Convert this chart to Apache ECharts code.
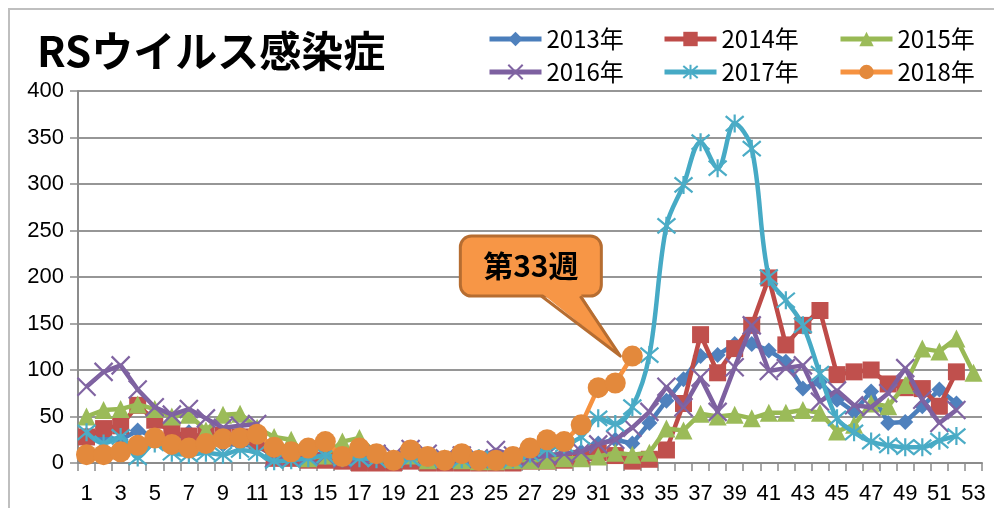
<!DOCTYPE html>
<html><head><meta charset="utf-8">
<script src="https://cdn.jsdelivr.net/npm/echarts@6/dist/echarts.min.js"></script>
<style>html,body{margin:0;padding:0;background:#fff}#c{width:994px;height:508px}</style>
</head><body><div id="c"></div>
<script>
const weeks = ['1','2','3','4','5','6','7','8','9','10','11','12','13','14','15','16','17','18','19','20','21','22','23','24','25','26','27','28','29','30','31','32','33','34','35','36','37','38','39','40','41','42','43','44','45','46','47','48','49','50','51','52','53'];
const seriesNames = ['2013年','2014年','2015年','2016年','2017年','2018年'];
const y2013 = [30,28,25,35,28,25,33,25,20,20,18,8,5,5,5,3,5,3,2,3,3,3,3,5,8,5,5,8,10,12,21,25,21,43,67,90,115,116,128,128,121,109,80,87,68,55,77,43,44,61,79,64,null];
const y2014 = [28,37,40,62,46,33,29,30,30,28,22,5,5,3,3,2,0,0,0,2,0,0,0,0,0,0,2,2,3,5,11,8,2,4,14,64,138,97,123,148,199,127,148,164,95,98,100,85,81,80,61,98,null];
const y2015 = [50,57,58,63,58,50,52,35,52,53,38,28,25,5,8,23,27,10,5,8,3,5,3,2,2,3,3,3,5,5,7,11,9,11,37,35,53,50,52,48,54,54,57,54,34,41,64,61,84,123,120,134,97];
const y2016 = [82,98,105,79,60,52,58,48,38,40,42,5,5,8,8,5,8,10,8,15,10,5,8,5,14,8,5,8,10,12,20,25,38,55,82,60,92,55,103,148,99,102,105,66,78,62,60,75,102,68,43,57,null];
const y2017 = [33,21,28,6,21,11,9,11,9,14,11,2,3,5,8,5,5,4,3,5,5,3,4,5,3,4,10,15,20,28,48,42,60,116,255,299,345,317,365,338,200,175,148,96,48,33,23,19,17,17,24,29,null];
const y2018 = [9,9,12,19,27,20,16,21,26,27,31,17,12,16,23,7,16,10,3,14,7,3,10,3,3,7,16,25,23,41,81,86,115,null,null,null,null,null,null,null,null,null,null,null,null,null,null,null,null,null,null,null,null];
const yTicks = {min:0, max:400, interval:50};
const calloutText = '第33週';
const calloutWeekIndex = 32;

const allData = [y2013,y2014,y2015,y2016,y2017,y2018];
const lineColors = ['#4A7EBB','#BE4B48','#98B954','#7D60A0','#46AAC5','#F69240'];
const markColors = ['#4F81BD','#C0504D','#9BBB59','#8064A2','#4BACC6','#E3893C'];
const symbols = ['diamond','rect','triangle','path://M0,0L10,10M10,0L0,10','path://M0,0L10,10M10,0L0,10M5,-1L5,11','circle'];
const sizes = [16,17,18,18,18,21];

const chart = echarts.init(document.getElementById('c'), null, {renderer:'canvas'});
const series = seriesNames.map((n,i)=>({
  name:n, type:'line', data:allData[i],
  smooth: i===4 ? 0.35 : false,
  symbol: symbols[i], symbolSize: sizes[i], showAllSymbol:true,
  lineStyle:{color:lineColors[i], width:4.5},
  itemStyle:{color:markColors[i], borderColor:markColors[i], borderWidth:(i===3||i===4)?2.2:0},
  z: 2+i, animation:false
}));
const legPos = [[487,27],[662,27],[838,27],[487,60],[662,60],[838,60]];
const legends = seriesNames.map((n,i)=>({
  data:[n], left:legPos[i][0], top:legPos[i][1], padding:0,
  itemWidth:52, itemHeight:18, itemGap:5,
  lineStyle:{width:5},
  textStyle:{fontSize:24, color:'#000', fontFamily:'"Liberation Sans Narrow","Noto Sans CJK JP",sans-serif'}
}));
chart.setOption({
  animation:false,
  backgroundColor:'#fff',
  title:{text:'RSウイルス感染症', left:37, top:30, padding:0,
    textStyle:{fontSize:42, fontWeight:'bold', color:'#000', fontFamily:'"Noto Sans CJK JP",sans-serif'}},
  legend: legends,
  grid:{left:78, right:12, top:91, bottom:45, containLabel:false},
  xAxis:{type:'category', data:weeks, boundaryGap:true,
    axisLine:{lineStyle:{color:'#8C8C8C', width:2}},
    axisTick:{show:true, interval:0, length:8, lineStyle:{color:'#8C8C8C', width:1.5}},
    axisLabel:{interval:1, color:'#000', fontSize:22, margin:20, fontFamily:'"Liberation Sans",sans-serif'},
    splitLine:{show:false}},
  yAxis:{type:'value', min:yTicks.min, max:yTicks.max, interval:yTicks.interval,
    axisLine:{show:true, lineStyle:{color:'#8C8C8C', width:2}},
    axisTick:{show:true, length:8, lineStyle:{color:'#8C8C8C', width:1.5}},
    axisLabel:{color:'#000', fontSize:22, margin:14, fontFamily:'"Liberation Sans",sans-serif'},
    splitLine:{show:true, lineStyle:{color:'#969696', width:2}}},
  series: series
});

const p = chart.convertToPixel({seriesIndex:5}, [calloutWeekIndex, y2018[calloutWeekIndex]]);
const dx = p[0], dy = p[1];
const L = dx-172, R = dx-31, T = dy-120, B = dy-60;
const b1 = dx-91, b2 = dx-52, tipX = dx-12, tipY = dy;
chart.setOption({graphic:[
  {type:'rect', shape:{x:9,y:9,width:1000,height:520}, style:{fill:'none', stroke:'#BFBFBF', lineWidth:2}, z:0, silent:true},
  {type:'rect', shape:{x:L,y:T,width:R-L,height:B-T,r:11}, style:{fill:'#F79646', stroke:'#B66D31', lineWidth:3}, z:100},
  {type:'polygon', shape:{points:[[b1,B-3],[tipX,tipY],[b2,B-3]]}, style:{fill:'#F79646'}, z:101},
  {type:'polyline', shape:{points:[[b1,B],[tipX,tipY],[b2,B]]}, style:{fill:null, stroke:'#B66D31', lineWidth:3, lineJoin:'round'}, z:102},
  {type:'text', x:(L+R)/2, y:(T+B)/2, z:103, style:{text:calloutText, font:'bold 30px "Noto Sans CJK JP", sans-serif', fill:'#000', textAlign:'center', textVerticalAlign:'middle', align:'center', verticalAlign:'middle'}}
]});
</script></body></html>
